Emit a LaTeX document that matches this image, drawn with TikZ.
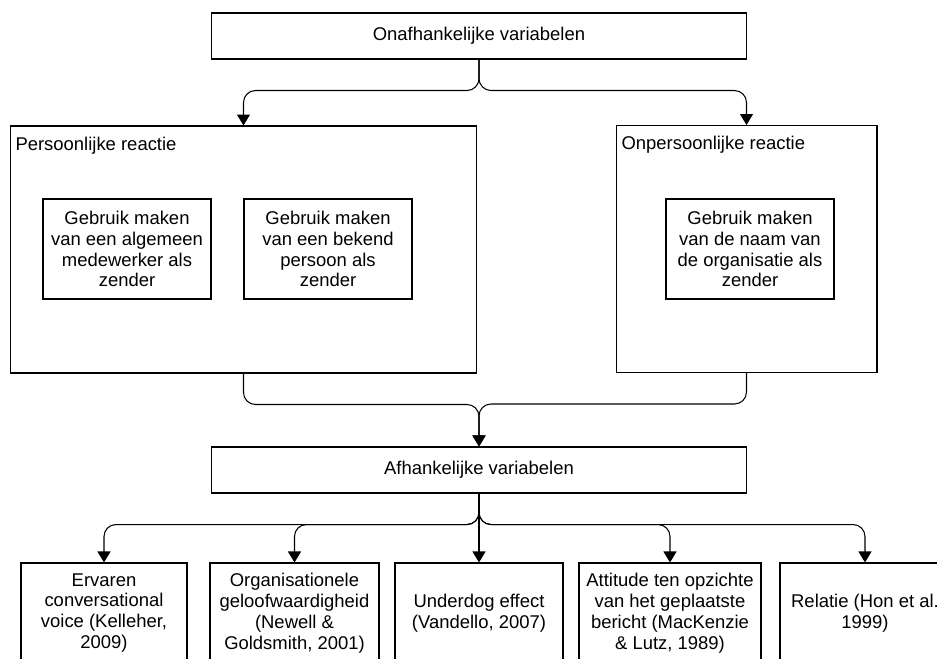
\documentclass[tikz,border=0pt]{standalone}
\usepackage{fontspec}
\setmainfont{Liberation Sans}
\usetikzlibrary{arrows.meta}

\begin{document}
\begin{tikzpicture}[x=0.02cm,y=-0.02cm,>={Triangle[length=0.22cm,width=0.26cm]},
    font=\fontsize{10.5}{11.9}\selectfont,line width=0.6pt]

  \tikzstyle{var}=[rectangle,draw,align=center,inner sep=0pt,
    minimum width=10.72cm,minimum height=0.92cm]

  \tikzstyle{reactie}=[rectangle,draw,inner sep=0pt,minimum height=4.94cm]

  \tikzstyle{zender}=[rectangle,draw,align=center,inner sep=0pt,
    minimum width=3.36cm,minimum height=2cm]

  \tikzstyle{effect}=[rectangle,draw,align=center,inner sep=0pt,
    minimum width=3.36cm,minimum height=2cm]

  \tikzstyle{caption}=[anchor=west,inner sep=0pt]

  \useasboundingbox (0,0) rectangle (937,659);
  \clip (0,0) rectangle (937,659);

  %% \draw [help lines,step=0.5cm] (0,0) grid (937,659);

  \node  (onaf)   at (479,36)    [var]    {Onafhankelijke variabelen};

  \node  (pers)   at (243.5,249.5) [reactie,minimum width=9.34cm] {};
  \node  (onpers) at (746.5,249) [reactie,minimum width=5.22cm] {};

  \node  (plab)   at (15,146)    [caption] {Persoonlijke reactie};
  \node  (olab)   at (621,145)   [caption] {Onpersoonlijke reactie};

  \node  (alg)    at (127,249)   [zender]
         {Gebruik maken\\van een algemeen\\medewerker als\\zender};
  \node  (bek)    at (328,249)   [zender]
         {Gebruik maken\\van een bekend\\persoon als\\zender};
  \node  (org)    at (750,249)   [zender]
         {Gebruik maken\\van de naam van\\de organisatie als\\zender};

  \node  (afh)    at (479,470)   [var]    {Afhankelijke variabelen};

  \node  (voice)  at (104,613)   [effect,minimum width=3.32cm]
         {Ervaren\\conversational\\voice (Kelleher,\\2009)};
  \node  (geloof) at (294.5,613) [effect,minimum width=3.38cm]
         {Organisationele\\geloofwaardigheid\\(Newell \&\\Goldsmith, 2001)};
  \node  (under)  at (479,613)   [effect]
         {Underdog effect\\(Vandello, 2007)};
  \node  (att)    at (670,613)   [effect,minimum width=3.64cm]
         {Attitude ten opzichte\\van het geplaatste\\bericht (MacKenzie\\\& Lutz, 1989)};
  \node  (rel)    at (865,613)   [effect,minimum width=3.4cm]
         {Relatie (Hon et al.\\1999)};

  \tikzstyle{split}=[->,rounded corners=0.24cm,
    to path={-- ++(0,31) -| (\tikztotarget)}]
  \tikzstyle{down}=[->]

  \path (onaf.south)   edge [split] (pers.north)
                       edge [split] (onpers.north)

        (pers.south)   edge [split] (afh.north)
        (onpers.south) edge [split] (afh.north)

        (afh.south)    edge [split] (voice.north)
                       edge [split] (geloof.north)
                       edge [down]  (under.north)
                       edge [split] (att.north)
                       edge [split] (rel.north);

\end{tikzpicture}
\end{document}
